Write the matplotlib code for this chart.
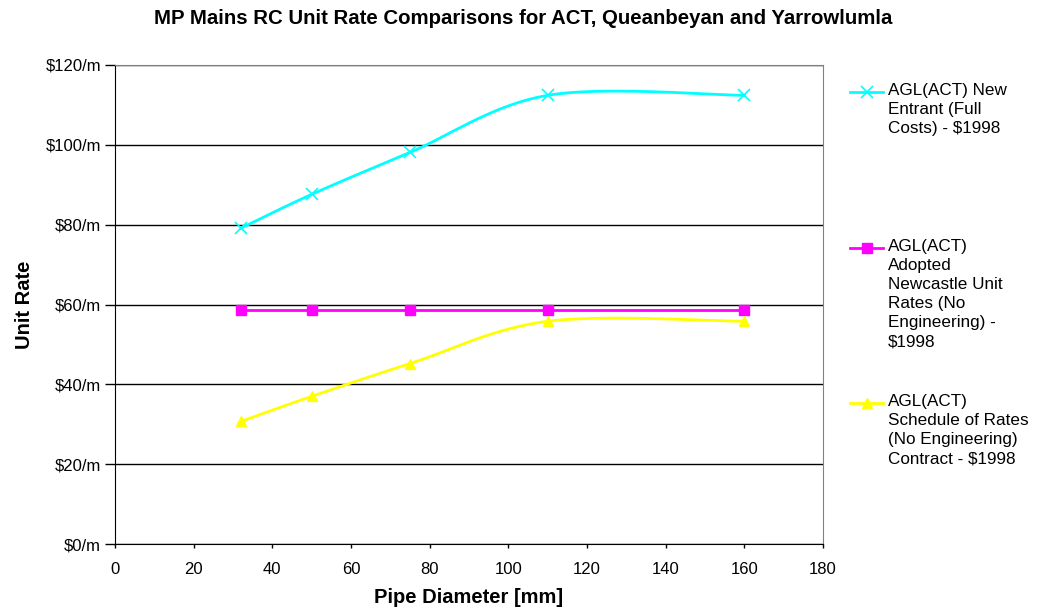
import matplotlib
matplotlib.use('Agg')
import matplotlib.pyplot as plt
from matplotlib.lines import Line2D
from matplotlib.ticker import FuncFormatter
import numpy as np

plt.rcParams['font.family'] = ['Liberation Sans', 'DejaVu Sans']

diameters = [32, 50, 75, 110, 160]
new_entrant = [79.1, 87.6, 98.1, 112.4, 112.4]
newcastle = [58.7, 58.7, 58.7, 58.7, 58.7]
schedule = [30.7, 37.0, 45.2, 55.8, 55.8]

labels = ["AGL(ACT) New\nEntrant (Full\nCosts) - $1998",
          "AGL(ACT)\nAdopted\nNewcastle Unit\nRates (No\nEngineering) -\n$1998",
          "AGL(ACT)\nSchedule of Rates\n(No Engineering)\nContract - $1998"]
colors = ['#00FFFF', '#FF00FF', '#FFFF00']
markers = ['x', 's', '^']
smooth = [True, False, True]


def smooth_curve(x, y, n=40):
    # excel style bezier smoothing through the points
    p = np.column_stack([x, y]).astype(float)
    pts = np.vstack([p[0], p, p[-1]])
    out = []
    t = np.linspace(0, 1, n)[:, None]
    for i in range(1, len(pts) - 2):
        p0, p3 = pts[i], pts[i + 1]
        c1 = p0 + (pts[i + 1] - pts[i - 1]) / 6
        c2 = p3 - (pts[i + 2] - pts[i]) / 6
        seg = (1 - t)**3 * p0 + 3 * (1 - t)**2 * t * c1 + 3 * (1 - t) * t**2 * c2 + t**3 * p3
        out.append(seg)
    out = np.vstack(out)
    return out[:, 0], out[:, 1]


fig = plt.figure(figsize=(10.43, 6.12), dpi=100)
ax = fig.add_axes([0.1103, 0.1111, 0.6788, 0.7827])

for vals, c, m, s in zip([new_entrant, newcastle, schedule], colors, markers, smooth):
    if s:
        sx, sy = smooth_curve(diameters, vals)
    else:
        sx, sy = diameters, vals
    ax.plot(sx, sy, color=c, lw=2, zorder=3)
    ax.plot(diameters, vals, ls='none', marker=m, color=c, ms=7 if m != 'x' else 8,
            mew=1.2 if m == 'x' else 1, zorder=4)

ax.set_xlim(0, 180)
ax.set_ylim(0, 120)
ax.set_xticks(range(0, 181, 20))
ax.set_yticks(range(0, 121, 20))
ax.yaxis.set_major_formatter(FuncFormatter(lambda v, p: '$%d/m' % v))
ax.yaxis.grid(True, color='black', lw=1)
ax.set_axisbelow(True)
ax.tick_params(labelsize=12, width=1, direction='out')
ax.tick_params(axis='x', length=3, pad=10)
ax.tick_params(axis='y', length=7, pad=3)
for s in ['top', 'right']:
    ax.spines[s].set_color('#808080')
for s in ['left', 'bottom']:
    ax.spines[s].set_color('black')

ax.set_xlabel('Pipe Diameter [mm]', fontsize=14.5, fontweight='bold', labelpad=8)
ax.set_ylabel('Unit Rate', fontsize=14.5, fontweight='bold', labelpad=8)
fig.text(0.502, 1 - 19 / 612, 'MP Mains RC Unit Rate Comparisons for ACT, Queanbeyan and Yarrowlumla',
         ha='center', va='center', fontsize=14.7, fontweight='bold')

# legend drawn by hand so the markers line up with the first text line
W, H = 1043, 612
for lab, c, m, yy in zip(labels, colors, markers, [92, 248, 403]):
    fig.add_artist(Line2D([850 / W, 883 / W], [1 - yy / H, 1 - yy / H], color=c, lw=2))
    fig.add_artist(Line2D([866.5 / W], [1 - yy / H], color=c, marker=m, ms=7 if m != 'x' else 8,
                          mew=1.2 if m == 'x' else 1))
    fig.text(888 / W, 1 - (yy - 9) / H, lab, ha='left', va='top', fontsize=12.3,
             linespacing=1.34)

plt.savefig('out.png', dpi=100)
